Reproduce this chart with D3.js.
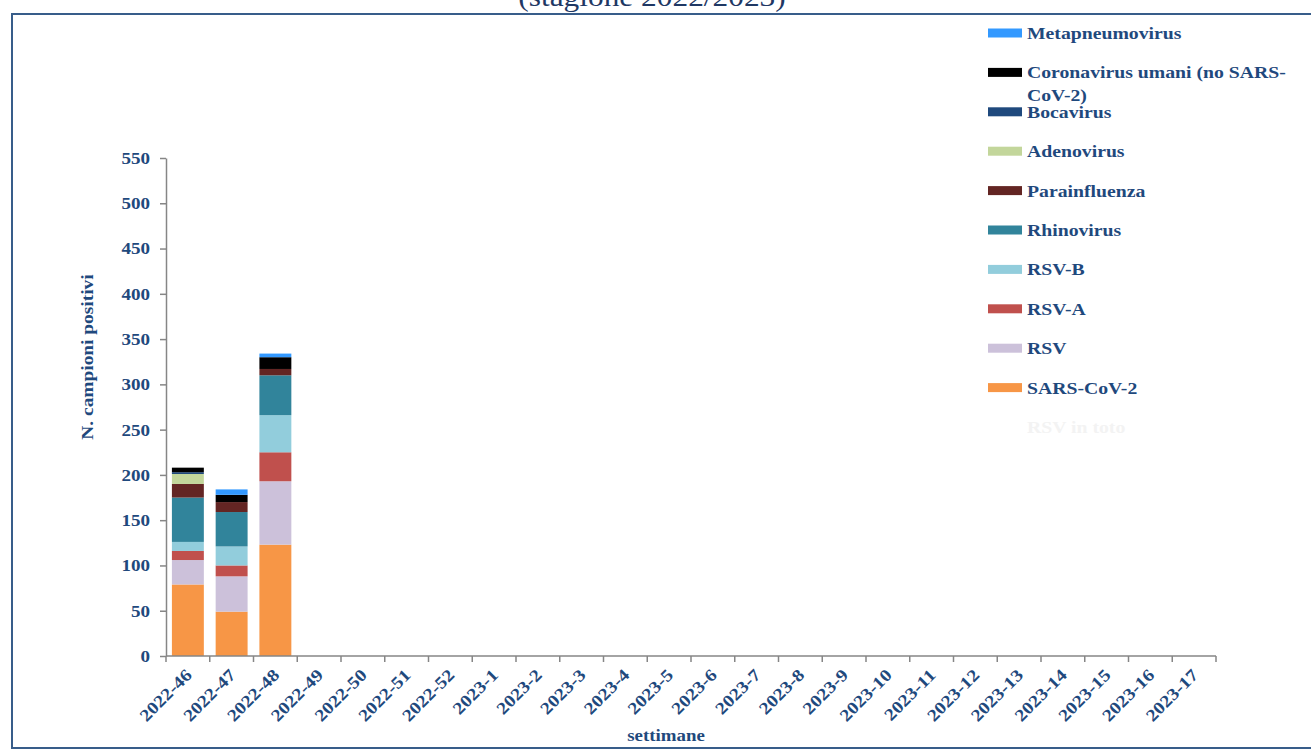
<!DOCTYPE html>
<html>
<head>
<meta charset="utf-8">
<script src="https://cdn.jsdelivr.net/npm/d3@7"></script>
<style>
  body { margin: 0; background: #fff; }
  svg { display: block; font-family: "Liberation Serif", "Times New Roman", serif; }
</style>
</head>
<body>
<div id="chart"></div>
<script>
// weeks on x axis
const weeks = ["2022-46","2022-47","2022-48","2022-49","2022-50","2022-51","2022-52",
  "2023-1","2023-2","2023-3","2023-4","2023-5","2023-6","2023-7","2023-8","2023-9",
  "2023-10","2023-11","2023-12","2023-13","2023-14","2023-15","2023-16","2023-17"];

// series, bottom of the stack first
const seriesNames = ["SARS-CoV-2","RSV","RSV-A","RSV-B","Rhinovirus","Parainfluenza",
  "Adenovirus","Bocavirus","Coronavirus umani (no SARS-CoV-2)","Metapneumovirus"];
const seriesColors = ["#f79646","#ccc1da","#c0504d","#92cddc","#31849b","#632523",
  "#c3d69b","#1f497d","#000000","#3399ff"];

// values for the first weeks, the rest are empty
const sarsCov2   = [79, 49, 123];
const rsv        = [27, 39, 70];
const rsvA       = [10, 12, 32];
const rsvB       = [10, 21, 41];
const rhino      = [49, 38, 44];
const paraflu    = [15, 11, 7];
const adeno      = [11, 0, 0];
const boca       = [2, 0, 0];
const coronaUm   = [5, 8, 13];
const metapneumo = [0, 6, 4];
const seriesValues = [sarsCov2, rsv, rsvA, rsvB, rhino, paraflu, adeno, boca, coronaUm, metapneumo];

const yTicks = [0,50,100,150,200,250,300,350,400,450,500,550];

const width = 1311, height = 754;
const margin = { top: 158, left: 166, right: 95, bottom: 98 };
const textBlue = "#1f497d";

// the original text is a bit wider than Liberation Serif, stretch it
function stretch(sel, k) {
  sel.each(function () {
    const len = this.getComputedTextLength();
    d3.select(this).attr("textLength", len * k).attr("lengthAdjust", "spacingAndGlyphs");
  });
}

const svg = d3.select("#chart").append("svg")
  .attr("width", width).attr("height", height);

// frame
svg.append("rect")
  .attr("x", 12).attr("y", 14)
  .attr("width", width).attr("height", 734)
  .attr("fill", "none").attr("stroke", "#385d8a").attr("stroke-width", 2);

// title, mostly cut off at the top
svg.append("text")
  .attr("x", 652).attr("y", 6)
  .attr("text-anchor", "middle")
  .attr("font-size", 28)
  .attr("fill", "#1f3864")
  .text("(stagione 2022/2023)")
  .call(stretch, 1.12);

// build table for stacking
const table = weeks.map((w, i) => {
  const row = { week: w };
  seriesNames.forEach((s, j) => { row[s] = seriesValues[j][i] || 0; });
  return row;
});
const stacked = d3.stack().keys(seriesNames)(table);

const x = d3.scaleBand()
  .domain(weeks)
  .range([margin.left, 1216])
  .paddingInner(0.27)
  .paddingOuter(0.135);

const y = d3.scaleLinear()
  .domain([0, 550])
  .range([656, margin.top]);

const color = d3.scaleOrdinal().domain(seriesNames).range(seriesColors);

// bars
svg.append("g")
  .selectAll("g")
  .data(stacked)
  .join("g")
  .attr("fill", d => color(d.key))
  .selectAll("rect")
  .data(d => d)
  .join("rect")
  .attr("x", d => x(d.data.week))
  .attr("y", d => y(d[1]))
  .attr("width", x.bandwidth())
  .attr("height", d => y(d[0]) - y(d[1]));

// y axis
const yAxis = svg.append("g")
  .attr("transform", `translate(${margin.left},0)`)
  .call(d3.axisLeft(y).tickValues(yTicks).tickSize(6).tickPadding(10).tickSizeOuter(0));
yAxis.select(".domain").attr("stroke", "#868686").attr("stroke-width", 1.5);
yAxis.selectAll(".tick line").attr("stroke", "#868686").attr("stroke-width", 1.5);
yAxis.selectAll(".tick text")
  .attr("font-family", "Liberation Serif, serif")
  .attr("font-size", 17).attr("font-weight", "bold").attr("fill", textBlue)
  .call(stretch, 1.12);

// x axis: labels at category centres, ticks between categories
const step = x.step();
const xAxis = svg.append("g")
  .attr("transform", `translate(0,656)`)
  .call(d3.axisBottom(x).tickSize(0).tickSizeOuter(0));
xAxis.select(".domain").remove();
xAxis.append("line")
  .attr("x1", margin.left).attr("x2", 1216)
  .attr("stroke", "#868686").attr("stroke-width", 1.5);
xAxis.selectAll(".boundary")
  .data(d3.range(weeks.length + 1))
  .join("line")
  .attr("class", "boundary")
  .attr("x1", i => margin.left + i * step)
  .attr("x2", i => margin.left + i * step)
  .attr("y1", 0).attr("y2", 6)
  .attr("stroke", "#868686").attr("stroke-width", 1.5);
xAxis.selectAll(".tick text")
  .attr("font-family", "Liberation Serif, serif")
  .attr("font-size", 17).attr("font-weight", "bold").attr("fill", textBlue)
  .attr("text-anchor", "end")
  .attr("dy", null).attr("y", 0)
  .attr("transform", "translate(5,20) rotate(-45)")
  .call(stretch, 1.16);

// axis titles
svg.append("text")
  .attr("transform", "translate(93,357) rotate(-90)")
  .attr("text-anchor", "middle")
  .attr("font-size", 17).attr("font-weight", "bold").attr("fill", textBlue)
  .text("N. campioni positivi")
  .call(stretch, 1.14);

svg.append("text")
  .attr("x", 666).attr("y", 741)
  .attr("text-anchor", "middle")
  .attr("font-size", 17).attr("font-weight", "bold").attr("fill", textBlue)
  .text("settimane")
  .call(stretch, 1.11);

// legend, top entry first
const legendItems = seriesNames.slice().reverse();
const legend = svg.append("g");
const rowY = i => 33 + i * 39.4;
legendItems.forEach((name, i) => {
  const g = legend.append("g").attr("transform", `translate(988,${rowY(i)})`);
  g.append("rect")
    .attr("x", 0).attr("y", -4.5)
    .attr("width", 34).attr("height", 9)
    .attr("fill", color(name));
  const lines = name.startsWith("Coronavirus")
    ? ["Coronavirus umani (no SARS-", "CoV-2)"] : [name];
  lines.forEach((line, k) => {
    g.append("text")
      .attr("x", 39).attr("y", 6 + k * 23)
      .attr("font-size", 17).attr("font-weight", "bold").attr("fill", textBlue)
      .text(line)
      .call(stretch, 1.16);
  });
});
// faint extra legend entry
legend.append("text")
  .attr("x", 1027).attr("y", rowY(10) + 6)
  .attr("font-size", 17).attr("font-weight", "bold").attr("fill", "#f3f3f3")
  .text("RSV in toto")
  .call(stretch, 1.16);
</script>
</body>
</html>
